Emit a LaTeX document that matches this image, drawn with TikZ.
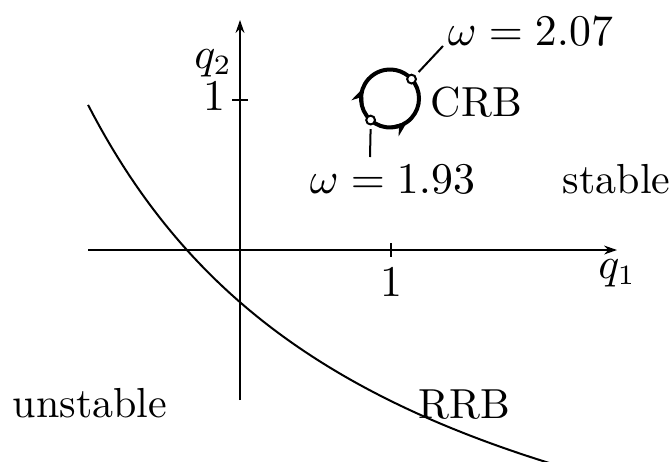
\documentclass[tikz,border=0pt]{standalone}
\usetikzlibrary{arrows.meta,decorations.markings}
\begin{document}
\begin{tikzpicture}[x=0.25pt,y=0.25pt,
  lbl/.style={inner sep=0pt,font=\fontsize{10.5}{12}\selectfont},
  axis/.style={line width=0.5pt,-{Stealth[length=3.2pt,width=2.2pt]}},
  tick/.style={line width=0.5pt},
  orbit/.style={line width=1pt},
  cdot/.style={circle,draw,fill=white,line width=0.5pt,minimum size=2.2pt,inner sep=0pt},
  lead/.style={line width=0.5pt},
  carrow/.style={postaction={decorate},decoration={markings,mark=at position #1 with {\arrow{Stealth[length=3.8pt,width=3.2pt]}}}}]
\useasboundingbox (0,0) rectangle (672,-461);
% axes
\coordinate (xs) at (88,-250);
\coordinate (xe) at (617,-250);
\coordinate (ys) at (240,-400);
\coordinate (ye) at (240,-20);
\draw[axis] (xs) -- (xe);
\draw[axis] (ys) -- (ye);
% ticks
\coordinate (tx) at (391,-250);
\coordinate (ty) at (240,-100);
\draw[tick] ([shift={(0,7)}]tx) -- ([shift={(0,-7)}]tx);
\draw[tick] ([shift={(-8,0)}]ty) -- ([shift={(8,0)}]ty);
% axis labels
\node[lbl,anchor=base] (q1) at (617,-278) {$q_1$};
\node[lbl,anchor=base] (q2) at (213,-68) {$q_2$};
\node[lbl,anchor=base] (one1) at (391,-296) {$1$};
\node[lbl,anchor=base] (one2) at (214,-110) {$1$};
% boundary curve RRB (hyperbola in axis units: x=(px-240)/150)
\draw[line width=0.5pt,variable=\t,samples=80,domain=-1.013:2.07]
  plot ({240+150*\t},{-250+150*(8.18/(\t+3.067)-3.015)});
% CRB orbit
\coordinate (c) at (390,-98.5);
\draw[orbit,carrow=0.45] ([shift={(228:29)}]c) arc[start angle=228,end angle=402,radius=29];
\draw[orbit,carrow=0.37] ([shift={(228:29)}]c) arc[start angle=228,end angle=42,radius=29];
\node[cdot] (d1) at ([shift={(42:29)}]c) {};
\node[cdot] (d2) at ([shift={(228:29)}]c) {};
% labels
\node[lbl,anchor=base west] (w2) at (447,-45) {$\omega = 2.07$};
\node[lbl,anchor=base west] (w1) at (309,-193) {$\omega = 1.93$};
\node[lbl,anchor=base west] (crb) at (430,-116) {CRB};
\node[lbl,anchor=base west] (st) at (562,-193) {stable};
\node[lbl,anchor=base west] (un) at (12,-417) {unstable};
\node[lbl,anchor=base west] (rrb) at (418,-418) {RRB};
% leaders
\coordinate (l2) at (443,-46);
\coordinate (l1) at (370,-157);
\draw[lead] ([shift={(45:10)}]d1.center) -- (l2);
\draw[lead] ([shift={(0,-9)}]d2.center) -- (l1);
\end{tikzpicture}
\end{document}
